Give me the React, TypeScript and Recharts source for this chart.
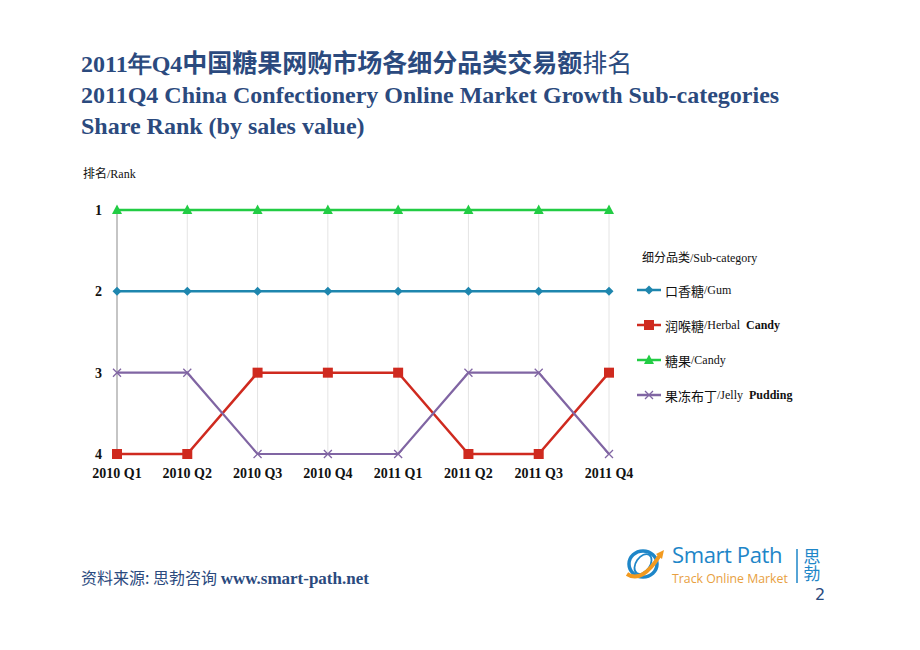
import React from 'react'
import { LineChart, Line, XAxis, YAxis, CartesianGrid, Legend } from 'recharts'

const quarters = ['2010 Q1', '2010 Q2', '2010 Q3', '2010 Q4', '2011 Q1', '2011 Q2', '2011 Q3', '2011 Q4']
const gumRank = [2, 2, 2, 2, 2, 2, 2, 2]
const herbalRank = [4, 4, 3, 3, 3, 4, 4, 3]
const candyRank = [1, 1, 1, 1, 1, 1, 1, 1]
const jellyRank = [3, 3, 4, 4, 4, 3, 3, 4]
const rankTicks = [1, 2, 3, 4]

const NAVY = '#2B4A7E'
const SERIF = '"Liberation Serif", "Times New Roman", serif'
const CJK = '"Noto Sans CJK SC", sans-serif'

const data = quarters.map((q, i) => ({
  q,
  gum: gumRank[i],
  herbal: herbalRank[i],
  candy: candyRank[i],
  jelly: jellyRank[i],
}))

const series = [
  { key: 'gum', color: '#1E86AE', shape: 'diamond', zh: '口香糖', en: '/Gum', bold: '' },
  { key: 'herbal', color: '#CF2A1F', shape: 'square', zh: '润喉糖', en: '/Herbal ', bold: 'Candy' },
  { key: 'candy', color: '#22CC44', shape: 'triangle', zh: '糖果', en: '/Candy', bold: '' },
  { key: 'jelly', color: '#8065A3', shape: 'cross', zh: '果冻布丁', en: '/Jelly ', bold: 'Pudding' },
]

function Marker({ shape, color, cx, cy }: { shape: string; color: string; cx: number; cy: number }) {
  if (shape === 'diamond') {
    return <path d={`M${cx},${cy - 4.5}L${cx + 4.5},${cy}L${cx},${cy + 4.5}L${cx - 4.5},${cy}Z`} fill={color} />
  }
  if (shape === 'square') {
    return <rect x={cx - 5} y={cy - 5} width={10} height={10} fill={color} />
  }
  if (shape === 'triangle') {
    return <path d={`M${cx},${cy - 5.5}L${cx + 5},${cy + 4}L${cx - 5},${cy + 4}Z`} fill={color} />
  }
  return (
    <path d={`M${cx - 4},${cy - 4}L${cx + 4},${cy + 4}M${cx + 4},${cy - 4}L${cx - 4},${cy + 4}`} stroke={color} strokeWidth={1.3} fill="none" />
  )
}

function makeDot(shape: string, color: string) {
  return (props: any) => {
    const { cx, cy, index } = props
    if (cx == null || cy == null) return <g key={index} />
    return (
      <g key={index}>
        <Marker shape={shape} color={color} cx={cx} cy={cy} />
      </g>
    )
  }
}

function LegendBox() {
  return (
    <div style={{ fontFamily: SERIF, fontSize: 12, color: '#111' }}>
      <div style={{ marginLeft: 5, height: 20, lineHeight: '20px' }}>
        <span style={{ fontFamily: CJK }}>细分品类</span>/Sub-category
      </div>
      {series.map((s, i) => (
        <div key={s.key} style={{ display: 'flex', alignItems: 'center', height: 20, marginTop: i === 0 ? 13 : 15 }}>
          <svg width={26} height={12} style={{ marginRight: 2 }}>
            <line x1={0} y1={6} x2={24} y2={6} stroke={s.color} strokeWidth={2.5} />
            <Marker shape={s.shape} color={s.color} cx={12} cy={6} />
          </svg>
          <span style={{ fontFamily: CJK, fontSize: 13 }}>{s.zh}</span>
          <span style={{ whiteSpace: 'pre' }}>{s.en}</span>
          {s.bold && <span style={{ fontWeight: 'bold', marginLeft: 3 }}>{s.bold}</span>}
        </div>
      ))}
    </div>
  )
}

export default function App() {
  return (
    <div style={{ position: 'absolute', left: 0, top: 0, width: 920, height: 650, background: '#fff', overflow: 'hidden' }}>
      <div style={{ position: 'absolute', left: 81, top: 46, fontFamily: SERIF, fontWeight: 'bold', color: NAVY, fontSize: 24, lineHeight: '31px', whiteSpace: 'nowrap' }}>
        <div>
          2011年Q4<span style={{ fontFamily: CJK, fontSize: 25 }}>中国糖果网购市场各细分品类交易额</span><span style={{ fontFamily: CJK, fontSize: 25, fontWeight: 'normal' }}>排名</span>
        </div>
        <div>2011Q4 China Confectionery Online Market Growth Sub-categories</div>
        <div>Share Rank (by sales value)</div>
      </div>

      <div style={{ position: 'absolute', left: 83, top: 164, fontSize: 12, fontFamily: SERIF, color: '#111' }}>
        <span style={{ fontFamily: CJK }}>排名</span>/Rank
      </div>

      <div style={{ position: 'absolute', left: 0, top: 0 }}>
        <LineChart width={920} height={650} data={data} margin={{ top: 210, right: 311, bottom: 166, left: 77 }}>
          <CartesianGrid horizontal={false} stroke="#E4E4E4" />
          <XAxis
            dataKey="q"
            axisLine={false}
            tickLine={false}
            interval={0}
            height={30}
            tickMargin={8}
            tick={{ fontFamily: SERIF, fontSize: 14, fontWeight: 'bold', fill: '#111' }}
          />
          <YAxis
            reversed
            type="number"
            domain={[1, 4]}
            ticks={rankTicks}
            width={40}
            axisLine={{ stroke: '#B8B8B8', strokeWidth: 1.5 }}
            tickLine={false}
            tickMargin={9}
            tick={{ fontFamily: SERIF, fontSize: 14, fontWeight: 'bold', fill: '#111' }}
          />
          <Legend
            layout="vertical"
            verticalAlign="middle"
            align="center"
            content={() => <LegendBox />}
            wrapperStyle={{ left: 637, top: 247, width: 200 }}
          />
          {series.map((s) => (
            <Line
              key={s.key}
              dataKey={s.key}
              stroke={s.color}
              strokeWidth={s.key === 'jelly' ? 2.2 : 2.5}
              dot={makeDot(s.shape, s.color)}
              activeDot={false}
              isAnimationActive={false}
            />
          ))}
        </LineChart>
      </div>

      <div style={{ position: 'absolute', left: 81, top: 565, fontSize: 16, color: NAVY, whiteSpace: 'nowrap' }}>
        <span style={{ fontFamily: CJK }}>资料来源: 思勃咨询 </span>
        <span style={{ fontFamily: SERIF, fontWeight: 'bold', fontSize: 17 }}>www.smart-path.net</span>
      </div>

      <svg style={{ position: 'absolute', left: 622, top: 534 }} width={210} height={53}>
        <g transform="translate(0 8)">
          <ellipse cx={21} cy={22} rx={14} ry={13} fill="none" stroke="#1E86C8" strokeWidth={3.5} />
          <ellipse cx={21} cy={22} rx={7} ry={11} fill="none" stroke="#1E86C8" strokeWidth={1.8} transform="rotate(35 21 22)" />
          <path d="M5,32 Q20,42 38,13" stroke="#F29A1F" strokeWidth={4} fill="none" />
          <path d="M34,12 L42,8 L40,17 Z" fill="#F29A1F" />
          <text x={50} y={21} fontFamily='"Open Sans", sans-serif' fontSize={22} letterSpacing={-0.4} fill="#1E86C8">Smart Path</text>
          <text x={50} y={41} fontFamily='"Open Sans", sans-serif' fontSize={12.3} fill="#E8A040">Track Online Market</text>
          <line x1={175} y1={7} x2={175} y2={41} stroke="#1E86C8" strokeWidth={1.5} />
          <text x={190} y={6} fontFamily={CJK} fontSize={17} fill="#1E86C8" style={{ writingMode: 'vertical-rl' }}>思勃</text>
        </g>
      </svg>
      <div style={{ position: 'absolute', left: 815, top: 587, fontFamily: '"DejaVu Sans", sans-serif', fontSize: 16, lineHeight: '16px', color: NAVY }}>2</div>
    </div>
  )
}
